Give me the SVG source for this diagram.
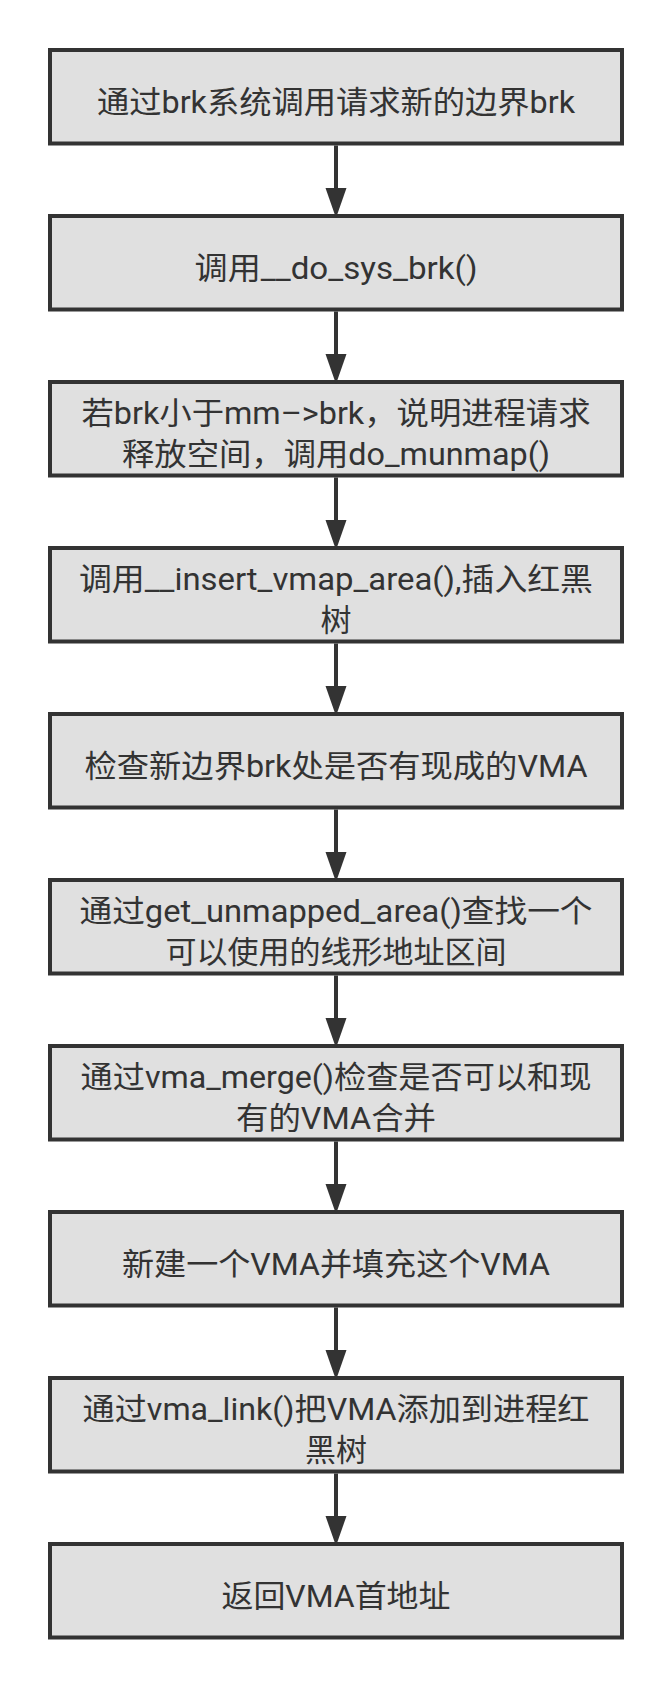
<svg xmlns="http://www.w3.org/2000/svg" width="672" height="1688" viewBox="0 0 672 1688">
<style>
.box{fill:#e0e0e0;stroke:#333333;stroke-width:4}
.t{font-family:Roboto,"Noto Sans CJK SC",sans-serif;font-size:31px;fill:#333333;text-anchor:middle}
.c{stroke:#333333;stroke-width:4;fill:none;marker-end:url(#ah)}
</style>
<defs>
<marker id="ah" markerUnits="userSpaceOnUse" viewBox="0 -11 31 22" markerWidth="31" markerHeight="22" refX="2" refY="0" orient="auto">
<path d="M0,-10.5 L30,0 L0,10.5 Z" fill="#333333"/>
</marker>
</defs>
<rect width="672" height="1688" fill="#ffffff"/>
<g id="n1"><rect class="box" x="50" y="50" width="572" height="93.5"/><text class="t" x="336" y="112.75" textLength="478" lengthAdjust="spacingAndGlyphs">通过brk系统调用请求新的边界brk</text></g>
<g id="n2"><rect class="box" x="50" y="216" width="572" height="93.5"/><text class="t" x="336" y="278.75" textLength="283" lengthAdjust="spacingAndGlyphs">调用__do_sys_brk()</text></g>
<g id="n3"><rect class="box" x="50" y="382" width="572" height="93.5"/><text class="t" x="336" y="423.75" textLength="509" lengthAdjust="spacingAndGlyphs">若brk小于mm–&gt;brk，说明进程请求</text><text class="t" x="336" y="464.75" textLength="428" lengthAdjust="spacingAndGlyphs">释放空间，调用do_munmap()</text></g>
<g id="n4"><rect class="box" x="50" y="548" width="572" height="93.5"/><text class="t" x="336" y="589.75" textLength="514" lengthAdjust="spacingAndGlyphs">调用__insert_vmap_area(),插入红黑</text><text class="t" x="336" y="630.75">树</text></g>
<g id="n5"><rect class="box" x="50" y="714" width="572" height="93.5"/><text class="t" x="336" y="776.75" textLength="503" lengthAdjust="spacingAndGlyphs">检查新边界brk处是否有现成的VMA</text></g>
<g id="n6"><rect class="box" x="50" y="880" width="572" height="93.5"/><text class="t" x="336" y="921.75" textLength="513" lengthAdjust="spacingAndGlyphs">通过get_unmapped_area()查找一个</text><text class="t" x="336" y="962.75">可以使用的线形地址区间</text></g>
<g id="n7"><rect class="box" x="50" y="1046" width="572" height="93.5"/><text class="t" x="336" y="1087.75" textLength="511" lengthAdjust="spacingAndGlyphs">通过vma_merge()检查是否可以和现</text><text class="t" x="336" y="1128.75" textLength="200" lengthAdjust="spacingAndGlyphs">有的VMA合并</text></g>
<g id="n8"><rect class="box" x="50" y="1212" width="572" height="93.5"/><text class="t" x="336" y="1274.75" textLength="428" lengthAdjust="spacingAndGlyphs">新建一个VMA并填充这个VMA</text></g>
<g id="n9"><rect class="box" x="50" y="1378" width="572" height="93.5"/><text class="t" x="336" y="1419.75" textLength="507" lengthAdjust="spacingAndGlyphs">通过vma_link()把VMA添加到进程红</text><text class="t" x="336" y="1460.75">黑树</text></g>
<g id="n10"><rect class="box" x="50" y="1544" width="572" height="93.5"/><text class="t" x="336" y="1606.75" textLength="229" lengthAdjust="spacingAndGlyphs">返回VMA首地址</text></g>
<g id="connectors">
<line class="c" x1="336" y1="145.5" x2="336" y2="190"/>
<line class="c" x1="336" y1="311.5" x2="336" y2="356"/>
<line class="c" x1="336" y1="477.5" x2="336" y2="522"/>
<line class="c" x1="336" y1="643.5" x2="336" y2="688"/>
<line class="c" x1="336" y1="809.5" x2="336" y2="854"/>
<line class="c" x1="336" y1="975.5" x2="336" y2="1020"/>
<line class="c" x1="336" y1="1141.5" x2="336" y2="1186"/>
<line class="c" x1="336" y1="1307.5" x2="336" y2="1352"/>
<line class="c" x1="336" y1="1473.5" x2="336" y2="1518"/>
</g>
</svg>
